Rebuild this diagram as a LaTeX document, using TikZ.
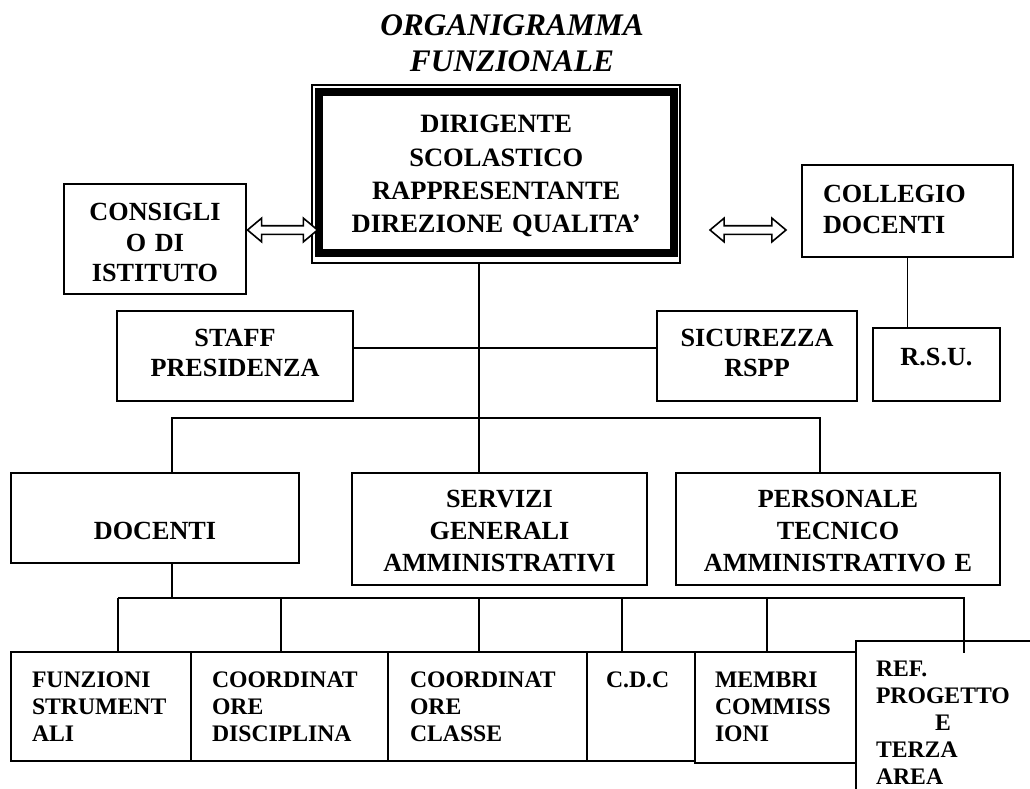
\documentclass[tikz,border=0pt]{standalone}
\usepackage{fontspec}
\setmainfont{Liberation Serif}
\usetikzlibrary{shapes.arrows,calc}
\hyphenpenalty=10000
\exhyphenpenalty=10000

\begin{document}
\begin{tikzpicture}[x=1pt,y=-1pt,
	box/.style={draw, line width=1.8pt, inner sep=0pt, outer sep=0pt, anchor=north west,
		font=\bfseries\fontsize{26.2}{30.5}\selectfont},
	lowbox/.style={box, align=left, text height=35pt, text depth=74pt,
		font=\bfseries\fontsize{23.7}{27.3}\selectfont},
	link/.style={line width=1.8pt},
	dblarrow/.style={draw, shape=double arrow, line width=1.6pt, fill=white, inner xsep=0pt, inner ysep=3.5pt,
		minimum width=22pt, double arrow head extend=7.5pt, double arrow tip angle=80}]

	\useasboundingbox (0,0) rectangle (1030,789);
	\clip (0,0) rectangle (1030,789);

	\node[font=\bfseries\itshape\fontsize{31.4}{35.5}\selectfont, text width=320pt, align=center, anchor=base] (title) at (512,36) {ORGANIGRAMMA\\FUNZIONALE};

	\node[box, line width=1.2pt, minimum width=368pt, minimum height=178pt] (mainout) at (312,85) {};
	\node[box, line width=8pt, text width=354.5pt, align=center, text height=40.3pt, text depth=120.2pt,
		font=\bfseries\fontsize{26.5}{33.3}\selectfont] (main) at (319,92.5) {DIRIGENTE\\SCOLASTICO\\RAPPRESENTANTE\\DIREZIONE QUALITA'};

	\node[box, text width=182pt, align=center, text height=36.7pt, text depth=73.3pt] (cons) at (64,184) {CONSIGLI\\O DI\\ISTITUTO};
	\node[box, inner xsep=21pt, text width=169pt, align=left, text height=37.6pt, text depth=54.4pt,
		font=\bfseries\fontsize{26.2}{31}\selectfont] (colleg) at (802,165) {COLLEGIO\\DOCENTI};

	\node[box, text width=236pt, align=center, text height=35pt, text depth=55pt] (staff) at (117,311) {STAFF\\PRESIDENZA};
	\node[box, text width=200pt, align=center, text height=35pt, text depth=55pt] (sic) at (657,311) {SICUREZZA\\RSPP};
	\node[box, text width=127pt, align=center, text height=37.6pt, text depth=35.4pt] (rsu) at (873,328) {R.S.U.};

	\node[box, text width=288pt, align=center, text height=66pt, text depth=24pt] (doc) at (11,473) {DOCENTI};
	\node[box, text width=295pt, align=center, text height=34.6pt, text depth=77.4pt,
		font=\bfseries\fontsize{26.2}{31.7}\selectfont] (serv) at (352,473) {SERVIZI\\GENERALI\\AMMINISTRATIVI};
	\node[box, text width=324pt, align=center, text height=34.6pt, text depth=77.4pt,
		font=\bfseries\fontsize{26.2}{31.7}\selectfont] (pers) at (676,473) {PERSONALE\\TECNICO\\AMMINISTRATIVO E};

	\node[lowbox, inner xsep=21pt, text width=138pt] (funz) at (11,652) {FUNZIONI\\STRUMENT\\ALI};
	\node[lowbox, inner xsep=21pt, text width=155pt] (cdisc) at (191,652) {COORDINAT\\ORE\\DISCIPLINA};
	\node[lowbox, inner xsep=22pt, text width=155pt] (cclas) at (388,652) {COORDINAT\\ORE\\CLASSE};
	\node[lowbox, inner xsep=19pt, text width=70pt] (cdc) at (587,652) {C.D.C};
	\node[lowbox, inner xsep=20pt, text width=121pt, text depth=76pt] (membri) at (695,652) {MEMBRI\\COMMISS\\IONI};
	\node[lowbox, inner xsep=20pt, text width=160pt, text height=35pt, text depth=200pt,
		font=\bfseries\fontsize{23.7}{27.1}\selectfont] (ref) at (856,641) {REF.\\PROGETTO\\\makebox[134pt]{E}\\TERZA\\AREA};

	\node[dblarrow, minimum height=70pt] (arrcons) at ($([yshift=9pt]cons.east)!0.5!([yshift=9pt]cons.east -| main.west)$) {};
	\node[dblarrow, minimum height=76pt] (arrcoll) at ($([yshift=-19pt]colleg.west -| mainout.east)!0.5!([yshift=-19pt]colleg.west)+(7,0)$) {};
	\draw[link] (colleg.south) -- (colleg.south |- rsu.north);

	\draw[link] ([xshift=-17pt]mainout.south) -- ([xshift=-17pt]mainout.south |- serv.north);
	\draw[link] ([yshift=8pt]staff.east) -- ([yshift=8pt]staff.east -| sic.west);
	\draw[link] ([xshift=17pt]doc.north) -- ++(0,-55) -| ([xshift=-18pt]pers.north);

	\coordinate (bus) at (118,598);
	\draw[link] ([xshift=17pt]doc.south) -- ([xshift=17pt]doc.south |- bus);
	\draw[link] (bus) -- ([xshift=8pt]ref.north |- bus) -- ([xshift=8pt,yshift=-12pt]ref.north);
	\foreach \n/\dx in {funz/17, cdisc/-8.5, cclas/-8.5, cdc/-19, membri/-8.5}
		\draw[link] ([xshift=\dx pt]\n.north) -- ([xshift=\dx pt]\n.north |- bus);
\end{tikzpicture}
\end{document}
